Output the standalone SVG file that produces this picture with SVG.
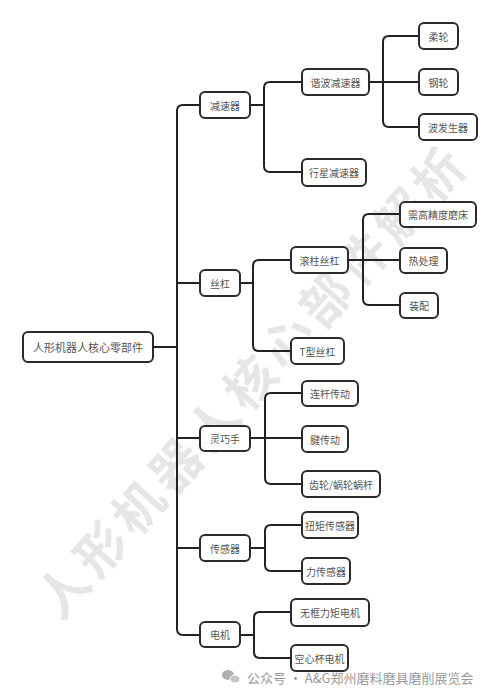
<svg xmlns="http://www.w3.org/2000/svg" width="500" height="694" viewBox="0 0 500 694">
<style>
.box{fill:#fff;stroke:#2b2b2b;stroke-width:2;rx:5;ry:5}
.t{font-family:"Noto Sans CJK SC","Noto Sans",sans-serif;font-size:10px;fill:#555;text-anchor:middle;dominant-baseline:central}
.root{font-size:11px}
.c{fill:none;stroke:#222;stroke-width:2}
.wm{font-family:"Noto Sans CJK SC",sans-serif;font-size:50px;fill:#e6e6e6;text-anchor:middle;dominant-baseline:central;font-weight:bold}
.ft{font-family:"Noto Sans CJK SC",sans-serif;font-size:13px;fill:#9a9a9a}
</style>
<rect width="500" height="694" fill="#fff"/>
<text class="wm" transform="translate(250,378) rotate(-48)" letter-spacing="6">人形机器人核心部件解析</text>
<g id="footer">
<ellipse cx="228" cy="675" rx="6" ry="5" fill="#b0b0b0"/>
<ellipse cx="235" cy="679" rx="5" ry="4" fill="#c4c4c4" stroke="#fff" stroke-width="1"/>
<text class="ft" x="247" y="683">公众号 · A&amp;G郑州磨料磨具磨削展览会</text>
</g>
<g id="connectors">
<path class="c" d="M153,347 H177 M200,105 H183 Q177,105 177,111 V629 Q177,635 183,635 H200 M177,283 H200 M177,438 H200 M177,548 H200"/>
<path class="c" d="M250,105 H264 M302,82 H270 Q264,82 264,88 V166 Q264,172 270,172 H302"/>
<path class="c" d="M369,82 H383 M419,36 H389 Q383,36 383,42 V121 Q383,127 389,127 H419 M383,82 H419"/>
<path class="c" d="M240,283 H253 M291,260 H259 Q253,260 253,266 V345 Q253,351 259,351 H291"/>
<path class="c" d="M348,260 H400 M400,214 H369 Q363,214 363,220 V299 Q363,305 369,305 H400"/>
<path class="c" d="M250,438 H302 M302,393 H271 Q265,393 265,399 V478 Q265,484 271,484 H302"/>
<path class="c" d="M250,548 H265 M302,525 H271 Q265,525 265,531 V565 Q265,571 271,571 H302"/>
<path class="c" d="M240,635 H254 M291,612 H260 Q254,612 254,618 V652 Q254,658 260,658 H291"/>
</g>
<g id="root"><rect class="box" x="23" y="332" width="130" height="30"/><text class="t root" x="88" y="347">人形机器人核心零部件</text></g>
<g id="jiansuqi"><rect class="box" x="200" y="92" width="50" height="26"/><text class="t" x="225" y="105">减速器</text></g>
<g id="sigang"><rect class="box" x="200" y="270" width="40" height="26"/><text class="t" x="220" y="283">丝杠</text></g>
<g id="lingqiaoshou"><rect class="box" x="200" y="426" width="50" height="25"/><text class="t" x="225" y="438.5">灵巧手</text></g>
<g id="chuanganqi"><rect class="box" x="200" y="535" width="50" height="26"/><text class="t" x="225" y="548">传感器</text></g>
<g id="dianji"><rect class="box" x="200" y="622" width="40" height="25"/><text class="t" x="220" y="634.5">电机</text></g>
<g id="xiebo"><rect class="box" x="302" y="69" width="67" height="26"/><text class="t" x="335.5" y="82">谐波减速器</text></g>
<g id="xingxing"><rect class="box" x="302" y="159" width="64" height="27"/><text class="t" x="334" y="172.5">行星减速器</text></g>
<g id="roulun"><rect class="box" x="419" y="23" width="39" height="26"/><text class="t" x="438.5" y="36">柔轮</text></g>
<g id="ganglun"><rect class="box" x="419" y="69" width="39" height="26"/><text class="t" x="438.5" y="82">钢轮</text></g>
<g id="bofasheng"><rect class="box" x="419" y="114" width="58" height="26"/><text class="t" x="448" y="127">波发生器</text></g>
<g id="gunzhu"><rect class="box" x="291" y="247" width="57" height="26"/><text class="t" x="319.5" y="260">滚柱丝杠</text></g>
<g id="txing"><rect class="box" x="291" y="338" width="53" height="26"/><text class="t" x="317.5" y="351">T型丝杠</text></g>
<g id="mochuang"><rect class="box" x="400" y="202" width="76" height="25"/><text class="t" x="438" y="214.5">需高精度磨床</text></g>
<g id="rechuli"><rect class="box" x="400" y="248" width="47" height="25"/><text class="t" x="423.5" y="260.5">热处理</text></g>
<g id="zhuangpei"><rect class="box" x="400" y="293" width="38" height="25"/><text class="t" x="419" y="305.5">装配</text></g>
<g id="liangan"><rect class="box" x="302" y="381" width="56" height="25"/><text class="t" x="330" y="393.5">连杆传动</text></g>
<g id="jian"><rect class="box" x="302" y="426" width="46" height="26"/><text class="t" x="325" y="439">腱传动</text></g>
<g id="chilun"><rect class="box" x="302" y="471" width="78" height="26"/><text class="t" x="341" y="484">齿轮/蜗轮蜗杆</text></g>
<g id="niuju"><rect class="box" x="302" y="512" width="56" height="26"/><text class="t" x="330" y="525">扭矩传感器</text></g>
<g id="li"><rect class="box" x="302" y="558" width="48" height="26"/><text class="t" x="326" y="571">力传感器</text></g>
<g id="wukuang"><rect class="box" x="291" y="599" width="78" height="27"/><text class="t" x="330" y="612.5">无框力矩电机</text></g>
<g id="kongxin"><rect class="box" x="291" y="645" width="57" height="26"/><text class="t" x="319.5" y="658">空心杯电机</text></g>
</svg>
